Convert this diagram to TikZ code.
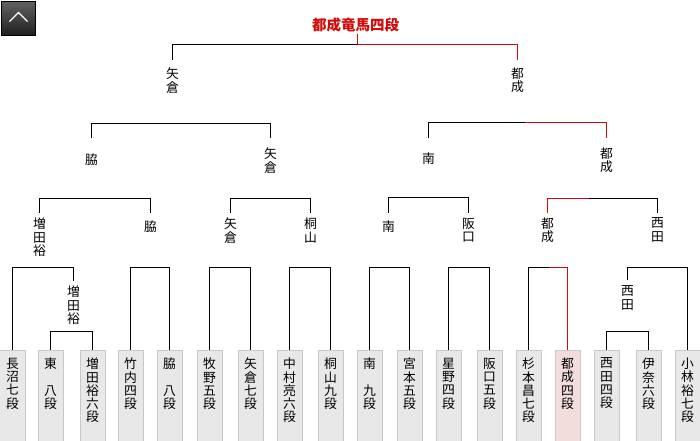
\documentclass[tikz,border=0pt]{standalone}
\usepackage{fontspec}
\setmainfont{Noto Sans CJK JP}
\usepackage{tikz}
\definecolor{winred}{RGB}{210,10,10}
\definecolor{boxfill}{RGB}{232,232,232}
\definecolor{boxline}{RGB}{200,200,200}
\definecolor{winfill}{RGB}{242,220,220}
\definecolor{winedge}{RGB}{218,196,196}
\tikzset{
    lbl/.style={anchor=north, inner sep=0pt, align=center, font=\fontsize{12.8}{13.3}\selectfont},
    leaf/.style={draw=boxline, fill=boxfill, anchor=north, minimum width=25pt, minimum height=95pt, inner sep=0pt},
    wline/.style={draw=winred},
    upbutton/.style={draw=black, top color=black!62, bottom color=black!88, minimum size=34pt, inner sep=0pt}
}

\begin{document}
\begin{tikzpicture}[x=1pt, y=-1pt, line width=1pt]
            \useasboundingbox (-0.5,-0.5) rectangle (699.5,439.5);

            \node[upbutton] (up) at (18,18) {};
            \draw[white, line width=1.2pt] ([shift={(-9,3)}]up.center) -- ++(9,-9) -- ++(9,9);

            \node[inner sep=0pt, text=winred, font=\fontsize{14.5}{16}\selectfont\bfseries] (title) at (355,24) {都成竜馬四段};

            \foreach \i/\x/\t in {1/12/{長\\沼\\七\\段}, 2/50/{東\\　\\八\\段}, 3/92/{増\\田\\裕\\六\\段},
                    4/130/{竹\\内\\四\\段}, 5/169/{脇\\　\\八\\段}, 6/209/{牧\\野\\五\\段}, 7/250/{矢\\倉\\七\\段},
                    8/289/{中\\村\\亮\\六\\段}, 9/330/{桐\\山\\九\\段}, 10/369/{南\\　\\九\\段}, 11/409/{宮\\本\\五\\段},
                    12/448/{星\\野\\四\\段}, 13/489/{阪\\口\\五\\段}, 14/528/{杉\\本\\昌\\七\\段},
                    16/606/{西\\田\\四\\段}, 17/648/{伊\\奈\\六\\段}, 18/687/{小\\林\\裕\\七\\段}} {
                \node[leaf] (b\i) at (\x,349) {};
                \node[lbl] (t\i) at (\x,357) {\t};
            }
            \node[leaf, fill=winfill, draw=winedge] (b15) at (567,349) {};
            \node[lbl] (t15) at (567,357) {都\\成\\四\\段};

            \node[lbl] (r1a) at (172,67) {矢\\倉};
            \node[lbl] (r1b) at (517,67) {都\\成};
            \node[lbl] (r2a) at (91,153) {脇};
            \node[lbl] (r2b) at (270,147) {矢\\倉};
            \node[lbl] (r2c) at (428,152) {南};
            \node[lbl] (r2d) at (606,147) {都\\成};
            \node[lbl] (r3a) at (39,217) {増\\田\\裕};
            \node[lbl] (r3b) at (150,220) {脇};
            \node[lbl] (r3c) at (230,217) {矢\\倉};
            \node[lbl] (r3d) at (310,217) {桐\\山};
            \node[lbl] (r3e) at (388,220) {南};
            \node[lbl] (r3f) at (468,217) {阪\\口};
            \node[lbl] (r3g) at (547,217) {都\\成};
            \node[lbl] (r3h) at (657,217) {西\\田};
            \node[lbl] (s1) at (73,285) {増\\田\\裕};
            \node[lbl] (s2) at (627,285) {西\\田};

            \foreach \n/\x/\y in {k0/357/33, m0/357/44, k1a/172/59, k1b/517/59,
                    k2a/91/137, k2b/270/137, k2c/428/137, k2d/606/137, m2/524/122,
                    k3a/39/212, k3b/150/212, k3c/230/212, k3d/310/212, k3e/388/212, k3f/468/212,
                    k3g/547/212, k3h/657/212, m3/588/198, j1/73/280, j2/627/279, m4/548/267} {
                \coordinate (\n) at (\x,\y);
            }

            \draw (k1a) -- ++(0,-15) -- (m0);
            \draw[wline] (k0) -- (m0) -| (k1b);

            \draw (k2a) -- ++(0,-14) -| (k2b);
            \draw (k2c) -- ++(0,-15) -- (m2);
            \draw[wline] (m2) -| (k2d);

            \draw (k3a) -- ++(0,-14) -| (k3b);
            \draw (k3c) -- ++(0,-14) -| (k3d);
            \draw (k3e) -- ++(0,-15) -| (k3f);
            \draw[wline] (k3g) -- ++(0,-14) -- (m3);
            \draw (m3) -| (k3h);

            \draw (b1.north) -- ++(0,-82) -| (j1);
            \draw (b2.north) -- ++(0,-18) -| (b3.north);
            \foreach \l/\r in {4/5, 6/7, 8/9, 10/11, 12/13} {
                \draw (b\l.north) -- ++(0,-82) -| (b\r.north);
            }
            \draw (b14.north) -- ++(0,-82) -- (m4);
            \draw[wline] (m4) -| (b15.north);
            \draw (j2) -- ++(0,-12) -| (b18.north);
            \draw (b16.north) -- ++(0,-18) -| (b17.north);
\end{tikzpicture}
\end{document}
